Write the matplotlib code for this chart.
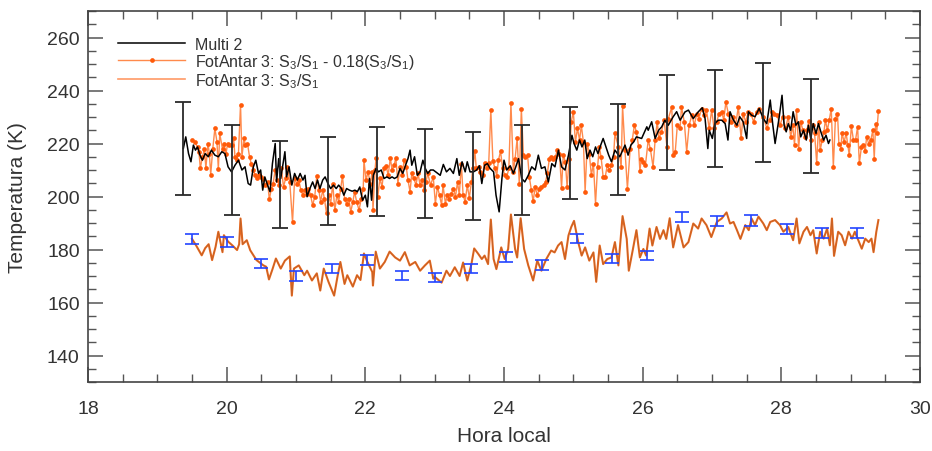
import matplotlib
matplotlib.use("Agg")
import matplotlib.pyplot as plt
from matplotlib.ticker import MultipleLocator

plt.rcParams['font.family'] = ['Liberation Sans', 'DejaVu Sans']
plt.rcParams['mathtext.fontset'] = 'custom'
plt.rcParams['mathtext.rm'] = 'Liberation Sans'
plt.rcParams['mathtext.default'] = 'regular'

# ---------------- data ----------------
multi_t = [19.375, 19.41, 19.45, 19.485, 19.52, 19.55, 19.58, 19.615, 19.65, 19.69, 19.735, 19.78, 19.83, 19.88, 19.93,
           19.975, 20.02, 20.07, 20.12, 20.17, 20.22, 20.265, 20.31, 20.345, 20.385, 20.42, 20.46, 20.49, 20.52, 20.55,
           20.59, 20.625, 20.66, 20.7, 20.72, 20.75, 20.78, 20.81, 20.84, 20.865, 20.9, 20.94, 20.98, 21.02, 21.06,
           21.1, 21.13, 21.16, 21.2, 21.24, 21.275, 21.31, 21.345, 21.385, 21.42, 21.46, 21.5, 21.54, 21.58, 21.615,
           21.655, 21.69, 21.73, 21.77, 21.81, 21.85, 21.885, 21.92, 21.96, 22.0, 22.03, 22.06, 22.09, 22.115, 22.155,
           22.19, 22.23, 22.27, 22.31, 22.35, 22.385, 22.42, 22.46, 22.5, 22.54, 22.58, 22.615, 22.645, 22.67, 22.71,
           22.75, 22.79, 22.83, 22.865, 22.9, 22.94, 22.98, 23.03, 23.08, 23.125, 23.17, 23.22, 23.27, 23.32, 23.355,
           23.395, 23.44, 23.47, 23.51, 23.56, 23.605, 23.645, 23.68, 23.72, 23.76, 23.8, 23.85, 23.885, 23.93, 23.97,
           24.0, 24.04, 24.09, 24.135, 24.17, 24.21, 24.255, 24.3, 24.35, 24.4, 24.45, 24.495, 24.54, 24.59, 24.64,
           24.69, 24.735, 24.785, 24.83, 24.88, 24.93, 24.98, 25.01, 25.05, 25.09, 25.125, 25.165, 25.2, 25.24, 25.28,
           25.32, 25.355, 25.395, 25.43, 25.47, 25.51, 25.55, 25.6, 25.67, 25.745, 25.79, 25.83, 25.87, 25.91, 25.985,
           26.06, 26.08, 26.13, 26.18, 26.23, 26.275, 26.32, 26.37, 26.44, 26.49, 26.54, 26.61, 26.66, 26.73, 26.8,
           26.86, 26.9, 26.94, 26.96, 27.005, 27.04, 27.09, 27.14, 27.19, 27.23, 27.26, 27.31, 27.36, 27.4, 27.45,
           27.5, 27.525, 27.57, 27.62, 27.68, 27.74, 27.79, 27.84, 27.875, 27.91, 27.94, 27.97, 28.01, 28.04, 28.07,
           28.1, 28.135, 28.17, 28.21, 28.245, 28.28, 28.32, 28.36, 28.39, 28.425, 28.46, 28.5, 28.535, 28.57, 28.61,
           28.645, 28.68, 28.7]
multi_T = [218.1, 222.5, 216.2, 213.1, 219.4, 217.5, 218.7, 215.6, 213.7, 216.2, 215.0, 217.5, 215.6, 215.0, 216.9,
           216.2, 211.2, 209.3, 211.8, 213.7, 210.0, 211.2, 204.9, 204.3, 211.2, 213.7, 208.7, 210.0, 202.4, 207.4,
           204.3, 201.8, 212.4, 220.0, 205.5, 214.3, 206.8, 211.8, 216.9, 207.4, 211.2, 204.3, 208.7, 206.2, 208.7,
           206.2, 208.0, 199.9, 203.0, 205.5, 203.0, 206.2, 203.0, 206.2, 207.4, 204.9, 203.0, 204.3, 203.0, 204.3,
           203.0, 200.5, 203.0, 202.4, 202.0, 202.4, 201.8, 203.6, 198.6, 200.5, 196.1, 206.8, 198.6, 208.0, 210.6,
           209.3, 210.0, 206.8, 207.4, 206.8, 207.4, 206.8, 207.4, 210.6, 208.7, 211.8, 214.3, 217.5, 211.8, 215.0,
           208.0, 209.3, 213.7, 210.6, 208.7, 210.0, 210.0, 209.0, 208.0, 212.1, 209.3, 210.6, 208.7, 214.3, 208.0,
           213.1, 209.3, 213.1, 209.3, 209.3, 210.0, 211.6, 204.9, 211.8, 212.4, 210.6, 209.3, 200.5, 194.2, 206.8,
           213.7, 210.0, 211.6, 208.7, 211.2, 214.3, 206.8, 205.5, 208.0, 211.2, 210.0, 215.6, 210.6, 211.2, 205.5,
           212.4, 211.2, 217.5, 211.2, 210.0, 215.6, 223.1, 220.0, 217.5, 221.3, 218.7, 221.3, 214.3, 217.5, 215.0,
           218.7, 216.2, 219.4, 221.9, 218.7, 215.6, 213.1, 217.5, 215.0, 219.4, 215.6, 219.4, 220.6, 222.5, 221.9,
           226.3, 225.0, 228.2, 221.9, 225.0, 226.3, 228.8, 226.9, 230.1, 232.0, 228.8, 231.9, 232.6, 229.4, 231.9,
           233.5, 229.4, 218.1, 225.0, 221.9, 227.5, 228.8, 228.8, 227.5, 221.3, 232.0, 228.8, 226.9, 230.1, 228.2,
           221.9, 232.0, 230.7, 230.1, 233.2, 229.4, 227.5, 236.4, 227.5, 220.0, 225.0, 230.1, 238.2, 226.9, 224.4,
           227.5, 225.0, 232.0, 226.9, 228.2, 222.5, 225.0, 221.3, 226.9, 221.9, 227.5, 223.8, 227.5, 224.4, 221.3,
           223.1, 220.0, 221.3]

multi_err_t = [19.37, 20.08, 20.77, 21.46, 22.17, 22.86, 23.55, 24.26, 24.95, 25.64, 26.35, 27.04, 27.74, 28.43]
multi_err_T = [218.0, 210.0, 204.6, 205.9, 209.3, 208.7, 207.9, 210.0, 216.3, 217.7, 228.0, 229.3, 231.7, 226.6]
multi_err_d = [17.6, 16.8, 16.3, 16.5, 16.8, 16.7, 16.6, 16.8, 17.4, 17.3, 18.0, 18.3, 18.5, 17.9]

corr_t = [19.505, 19.54, 19.58, 19.6, 19.62, 19.65, 19.68, 19.7, 19.73, 19.75, 19.77, 19.8, 19.83, 19.86, 19.88,
          19.9, 19.94, 19.96, 19.99, 20.015, 20.04, 20.07, 20.1, 20.12, 20.145, 20.17, 20.2, 20.22, 20.25, 20.27,
          20.3, 20.33, 20.355, 20.385, 20.41, 20.44, 20.47, 20.5, 20.53, 20.56, 20.59, 20.615, 20.645, 20.67, 20.7,
          20.73, 20.76, 20.79, 20.82, 20.85, 20.875, 20.91, 20.95, 20.98, 21.01, 21.04, 21.07, 21.1, 21.125, 21.155,
          21.18, 21.21, 21.24, 21.27, 21.3, 21.33, 21.355, 21.385, 21.41, 21.44, 21.47, 21.5, 21.53, 21.56, 21.59,
          21.615, 21.645, 21.67, 21.7, 21.73, 21.76, 21.79, 21.82, 21.845, 21.875, 21.91, 21.94, 21.97, 21.98, 22.01,
          22.04, 22.07, 22.1, 22.11, 22.14, 22.155, 22.18, 22.21, 22.24, 22.27, 22.3, 22.33, 22.36, 22.385, 22.415,
          22.44, 22.47, 22.5, 22.53, 22.56, 22.59, 22.615, 22.645, 22.67, 22.7, 22.73, 22.76, 22.79, 22.82, 22.85,
          22.875, 22.9, 22.94, 22.98, 23.01, 23.04, 23.07, 23.1, 23.12, 23.155, 23.18, 23.21, 23.24, 23.27, 23.3,
          23.33, 23.355, 23.385, 23.41, 23.44, 23.47, 23.5, 23.53, 23.55, 23.58, 23.6, 23.635, 23.66, 23.69, 23.72,
          23.75, 23.78, 23.81, 23.84, 23.87, 23.895, 23.92, 23.95, 23.98, 24.01, 24.04, 24.07, 24.1, 24.135, 24.16,
          24.19, 24.22, 24.25, 24.28, 24.31, 24.34, 24.365, 24.395, 24.42, 24.45, 24.48, 24.51, 24.54, 24.57, 24.6,
          24.625, 24.655, 24.68, 24.71, 24.74, 24.77, 24.8, 24.83, 24.855, 24.885, 24.91, 24.94, 24.97, 25.0, 25.03,
          25.06, 25.09, 25.115, 25.145, 25.17, 25.2, 25.23, 25.26, 25.29, 25.32, 25.35, 25.375, 25.4, 25.43, 25.46,
          25.49, 25.52, 25.55, 25.58, 25.6, 25.65, 25.69, 25.71, 25.745, 25.78, 25.82, 25.85, 25.88, 25.91, 25.94,
          25.96, 25.98, 26.0, 26.04, 26.08, 26.11, 26.15, 26.18, 26.21, 26.235, 26.27, 26.31, 26.35, 26.37, 26.42,
          26.44, 26.47, 26.5, 26.54, 26.56, 26.6, 26.635, 26.67, 26.71, 26.745, 26.78, 26.81, 26.85, 26.89, 26.92,
          26.96, 26.995, 27.03, 27.07, 27.1, 27.14, 27.17, 27.2, 27.235, 27.27, 27.31, 27.34, 27.38, 27.42, 27.45,
          27.485, 27.525, 27.56, 27.6, 27.645, 27.68, 27.74, 27.79, 27.83, 27.87, 27.9, 27.94, 27.98, 28.02, 28.06,
          28.1, 28.135, 28.165, 28.19, 28.22, 28.25, 28.28, 28.31, 28.34, 28.37, 28.395, 28.425, 28.45, 28.48, 28.51,
          28.54, 28.56, 28.59, 28.615, 28.635, 28.665, 28.69, 28.72, 28.75, 28.78, 28.81, 28.83, 28.86, 28.875, 28.905,
          28.935, 28.96, 28.98, 29.01, 29.04, 29.07, 29.1, 29.125, 29.155, 29.185, 29.21, 29.23, 29.26, 29.29, 29.32,
          29.34, 29.36, 29.375, 29.4]
corr_T = [221.2, 220.6, 218.7, 216.9, 210.6, 215.0, 217.8, 210.6, 220.0, 216.2, 208.3, 218.1, 225.7, 220.6, 210.2,
          223.8, 217.8, 220.0, 216.2, 220.0, 219.6, 219.4, 221.9, 215.0, 213.7, 216.2, 234.7, 215.0, 221.9, 219.4,
          220.0, 215.0, 212.4, 210.0, 208.0, 207.0, 208.0, 207.4, 206.5, 204.3, 205.5, 198.9, 203.0, 204.9, 210.0,
          206.2, 204.3, 210.6, 203.6, 206.8, 211.2, 205.5, 190.2, 206.8, 204.9, 206.2, 202.4, 200.5, 202.4, 201.1,
          203.0, 200.5, 196.7, 199.9, 207.8, 202.4, 198.0, 202.4, 199.2, 193.6, 200.5, 197.3, 204.9, 194.8, 200.5,
          198.0, 203.0, 207.8, 199.2, 197.3, 199.2, 194.2, 198.0, 201.8, 198.0, 194.8, 199.2, 203.0, 213.7, 206.2,
          209.3, 204.9, 209.3, 194.8, 210.0, 214.6, 199.9, 206.8, 203.6, 210.6, 211.6, 208.0, 214.6, 210.0, 211.8,
          214.6, 204.9, 211.2, 208.0, 213.7, 211.2, 206.2, 201.8, 208.7, 206.8, 204.3, 208.7, 204.3, 206.2, 202.4,
          205.5, 208.7, 204.3, 207.4, 197.3, 203.6, 200.5, 196.7, 204.3, 197.3, 200.5, 199.2, 201.1, 203.0, 199.9,
          205.5, 200.5, 212.4, 200.5, 198.0, 204.3, 199.5, 205.5, 210.6, 217.1, 210.6, 211.2, 209.3, 208.0, 212.8,
          210.6, 212.8, 232.6, 213.3, 210.6, 207.8, 213.7, 217.1, 210.6, 208.3, 207.4, 210.6, 235.1, 209.3, 214.3,
          221.9, 204.9, 233.2, 215.6, 215.0, 215.6, 207.4, 202.4, 198.2, 203.6, 200.5, 203.0, 203.6, 204.3, 205.5,
          208.7, 214.3, 215.0, 214.3, 215.0, 217.5, 216.2, 203.3, 215.6, 213.1, 203.6, 214.3, 228.2, 231.9, 220.6,
          225.7, 221.3, 226.9, 220.6, 201.8, 220.0, 216.2, 208.0, 212.4, 197.3, 211.2, 218.7, 215.0, 207.4, 207.4,
          211.8, 210.0, 211.8, 215.0, 223.8, 218.7, 211.2, 234.2, 217.5, 203.0, 218.1, 221.3, 226.9, 224.4, 219.1,
          209.6, 214.3, 213.1, 211.8, 221.3, 218.1, 211.2, 221.3, 228.2, 221.9, 224.4, 228.8, 218.7, 229.4, 233.8,
          215.6, 216.9, 226.9, 225.7, 233.8, 228.2, 216.9, 226.9, 230.7, 226.9, 231.3, 229.4, 233.2, 230.7, 232.6,
          225.7, 232.6, 225.7, 228.2, 231.3, 232.0, 228.8, 235.7, 231.3, 228.2, 230.1, 226.9, 233.8, 221.9, 231.3,
          228.2, 232.0, 231.3, 228.2, 232.0, 233.2, 230.1, 225.7, 228.8, 232.0, 231.3, 230.7, 226.9, 230.1, 225.7,
          230.1, 222.5, 226.9, 219.4, 232.6, 218.1, 228.2, 225.0, 222.5, 225.0, 228.4, 221.3, 226.9, 223.8, 212.5,
          228.2, 217.5, 221.3, 224.4, 228.8, 225.0, 228.8, 233.2, 211.2, 229.4, 231.3, 220.0, 218.1, 224.1, 220.6,
          223.8, 219.4, 215.6, 226.5, 221.3, 221.3, 226.3, 212.5, 218.7, 219.4, 217.1, 222.5, 220.0, 221.3, 225.0,
          214.3, 227.5, 223.8, 232.2]

raw_t = [19.50, 19.56, 19.64, 19.69, 19.74, 19.79, 19.84, 19.88, 19.94, 19.96, 20.02, 20.08, 20.15, 20.18, 20.20,
         20.23, 20.29, 20.34, 20.43, 20.48, 20.53, 20.57, 20.61, 20.66, 20.71, 20.78, 20.84, 20.91, 20.94, 20.97,
         21.04, 21.12, 21.16, 21.23, 21.30, 21.35, 21.40, 21.47, 21.55, 21.60, 21.64, 21.70, 21.74, 21.82, 21.88,
         21.93, 21.98, 22.03, 22.10, 22.11, 22.15, 22.21, 22.28, 22.35, 22.43, 22.50, 22.57, 22.64, 22.72, 22.79,
         22.86, 22.93, 22.98, 23.0, 23.1, 23.17, 23.22, 23.29, 23.36, 23.41, 23.47, 23.53, 23.57, 23.63, 23.68,
         23.72, 23.77, 23.81, 23.85, 23.89, 23.94, 23.96, 24.01, 24.06, 24.1, 24.16, 24.19, 24.24, 24.29, 24.35,
         24.42, 24.48, 24.54, 24.61, 24.68, 24.73, 24.78, 24.83, 24.88, 24.93, 24.97, 25.01, 25.07, 25.12, 25.17,
         25.23, 25.29, 25.33, 25.38, 25.43, 25.49, 25.55, 25.6, 25.65, 25.71, 25.77, 25.8, 25.86, 25.91, 25.96,
         26.01, 26.05, 26.1, 26.14, 26.2, 26.25, 26.3, 26.34, 26.39, 26.44, 26.51, 26.59, 26.66, 26.73, 26.8,
         26.85, 26.92, 26.99, 27.07, 27.14, 27.21, 27.26, 27.31, 27.36, 27.41, 27.48, 27.53, 27.57, 27.62, 27.67,
         27.74, 27.79, 27.84, 27.91, 27.98, 28.03, 28.1, 28.17, 28.22, 28.26, 28.32, 28.37, 28.42, 28.46, 28.51,
         28.56, 28.61, 28.66, 28.7, 28.73, 28.76, 28.82, 28.87, 28.92, 28.97, 29.02, 29.06, 29.11, 29.16, 29.21,
         29.26, 29.3, 29.33, 29.37, 29.4]
raw_T = [184.0, 181.5, 177.8, 180.5, 182.0, 176.0, 181.0, 186.7, 179.0, 185.4, 183.0, 181.6, 179.8, 182.0, 191.7,
         182.0, 183.5, 179.7, 176.0, 175.0, 174.0, 173.5, 168.7, 172.5, 176.6, 172.8, 175.8, 177.4, 162.6, 172.8,
         174.0, 170.3, 172.0, 168.3, 171.0, 164.5, 172.8, 167.7, 162.6, 170.0, 175.3, 167.0, 170.3, 166.0, 170.3,
         168.5, 178.5, 175.3, 171.5, 166.4, 179.2, 172.8, 175.3, 179.2, 177.0, 175.8, 179.0, 174.0, 175.3, 172.0,
         174.0, 175.8, 169.0, 169.7, 167.5, 172.0, 170.0, 173.3, 170.0, 175.1, 168.3, 174.5, 180.4, 178.3, 176.4,
         177.7, 174.5, 191.3, 176.4, 172.6, 178.3, 180.8, 176.4, 180.2, 193.2, 180.2, 177.0, 191.8, 180.2, 174.0,
         168.3, 175.8, 172.0, 176.4, 179.6, 178.9, 181.5, 182.8, 176.4, 185.3, 188.5, 190.8, 182.8, 177.7, 180.8,
         175.8, 178.9, 167.8, 181.5, 174.5, 176.4, 177.0, 182.8, 174.0, 192.6, 184.0, 172.0, 180.2, 187.3, 177.0,
         180.2, 177.7, 187.9, 181.5, 188.5, 184.0, 187.3, 184.0, 191.8, 180.8, 189.2, 180.8, 182.8, 189.8, 187.9,
         191.7, 189.2, 184.7, 190.4, 191.7, 194.0, 189.8, 190.4, 187.3, 184.0, 189.2, 187.3, 191.7, 189.2, 192.4,
         189.8, 187.3, 190.4, 191.1, 189.2, 186.7, 188.5, 183.5, 191.7, 182.3, 186.7, 188.5, 185.4, 187.3, 178.5,
         186.7, 184.1, 187.9, 181.6, 191.7, 177.6, 186.7, 185.4, 181.6, 186.7, 184.1, 186.7, 183.5, 180.3, 184.1,
         182.8, 184.1, 179.0, 186.7, 191.1]

raw_err_t = [19.50, 20.00, 20.50, 21.00, 21.52, 22.02, 22.53, 23.01, 23.52, 24.03, 24.55, 25.05, 25.56, 26.06,
             26.57, 27.07, 27.56, 28.08, 28.59, 29.09]
raw_err_T = [184.0, 183.0, 174.7, 170.0, 173.0, 175.9, 170.3, 169.6, 173.0, 177.0, 174.0, 184.0, 176.7, 177.9,
             192.4, 190.6, 191.1, 187.9, 186.4, 186.4]
raw_err_d = [1.75, 1.9, 1.55, 1.7, 1.7, 1.85, 1.65, 1.7, 1.7, 1.9, 1.85, 1.7, 1.75, 1.7, 1.9, 1.9, 2.1, 1.9, 1.9, 1.9]

assert len(multi_t) == len(multi_T), (len(multi_t), len(multi_T))
assert len(corr_t) == len(corr_T), (len(corr_t), len(corr_T))
assert len(raw_t) == len(raw_T), (len(raw_t), len(raw_T))

labels = ["Multi 2",
          "FotAntar 3: S$_3$/S$_1$ - 0.18(S$_3$/S$_1$)",
          "FotAntar 3: S$_3$/S$_1$"]

# ---------------- figure ----------------
W, H = 932, 452
fig = plt.figure(figsize=(W / 100, H / 100), dpi=100)
L, R, T, B = 88, 920, 12, 383
ax = fig.add_axes([L / W, 1 - B / H, (R - L) / W, (B - T) / H])

text_c = '#333333'

# FotAntar corrected (orange line with dots)
h2, = ax.plot(corr_t, corr_T, color='#FF8A4C', lw=1.0, marker='o', ms=3.4,
              mfc='#FF5A0A', mec='#FF5A0A', mew=0, zorder=2, label=labels[1])
# Multi 2 (black)
h1, = ax.plot(multi_t, multi_T, color='black', lw=1.1, zorder=3, label=labels[0])
ax.errorbar(multi_err_t, multi_err_T, yerr=multi_err_d, fmt='none', ecolor='#2a2a2a',
            elinewidth=1.3, capsize=6, capthick=1.3, zorder=4)

# FotAntar raw (brownish orange line)
ax.plot(raw_t, raw_T, color='#EE6A1E', lw=1.5, zorder=2)
ax.plot(raw_t, raw_T, color='#9A5A30', lw=0.6, alpha=0.55, zorder=2)
h3, = ax.plot([], [], color='#FF9A66', lw=1.2, label=labels[2])
ax.errorbar(raw_err_t, raw_err_T, yerr=raw_err_d, fmt='none', ecolor='#2244FF',
            elinewidth=1.2, capsize=5, capthick=1.2, zorder=4)

ax.set_xlim(18, 30)
ax.set_ylim(130, 270)
ax.xaxis.set_major_locator(MultipleLocator(2))
ax.xaxis.set_minor_locator(MultipleLocator(0.5))
ax.yaxis.set_major_locator(MultipleLocator(20))
ax.yaxis.set_minor_locator(MultipleLocator(5))
ax.tick_params(which='both', direction='in', top=True, right=True, colors='#555555',
               labelcolor=text_c, labelsize=14)
ax.tick_params(which='major', length=11, width=1.1)
ax.tick_params(which='minor', length=5.5, width=1.0)
ax.tick_params(axis='x', pad=13)
ax.tick_params(axis='y', pad=6)
for s in ax.spines.values():
    s.set_color('#444444')
    s.set_linewidth(1.2)

ax.set_xlabel('Hora local', fontsize=15, color=text_c)
ax.set_ylabel('Temperatura (K)', fontsize=15, color=text_c)
ax.xaxis.set_label_coords(0.5, -0.118)
ax.yaxis.set_label_coords(-0.073, 0.5)

leg = ax.legend(handles=[h1, h2, h3], loc='upper left', frameon=False, fontsize=11.5,
                bbox_to_anchor=(30 / (R - L), 1 - 26 / (B - T)), borderaxespad=0, borderpad=0,
                handlelength=4.2, handletextpad=0.6, labelspacing=0.0)
for t in leg.get_texts():
    t.set_color(text_c)

fig.savefig('out.png', dpi=100)
